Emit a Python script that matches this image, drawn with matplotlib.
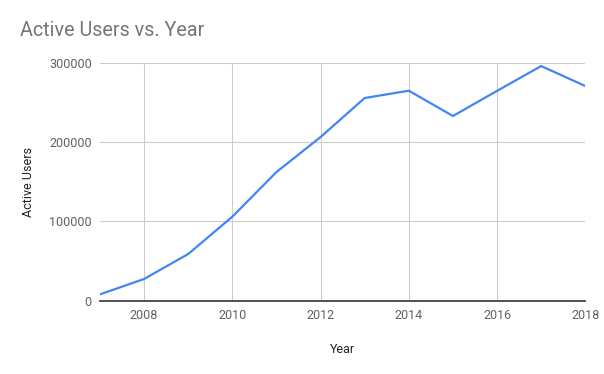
import numpy as np
from matplotlib import pyplot as plt

years = [2007, 2008, 2009, 2010, 2011, 2012, 2013, 2014, 2015, 2016, 2017, 2018]
active_users = [8000, 27400, 58900, 105900, 162200, 206300, 255500, 264700, 232800, 264500, 295800, 270600]
x_ticks = [2008, 2010, 2012, 2014, 2016, 2018]
y_ticks = [0, 100000, 200000, 300000]

plt.rcParams['font.family'] = ['Roboto', 'DejaVu Sans']

fig = plt.figure(figsize=(6.04, 3.74), dpi=100)
ax = fig.add_axes([100 / 604, 73.3 / 374, 485.3 / 604, 238 / 374])

ax.plot(years, active_users, color='#4285F4', linewidth=1.6, solid_joinstyle='round', zorder=3)

ax.set_xlim(2007, 2018)
ax.set_ylim(0, 300000)
ax.set_xticks(x_ticks)
ax.set_yticks(y_ticks)
ax.set_xticklabels([str(t) for t in x_ticks])
ax.set_yticklabels([str(t) for t in y_ticks])

ax.grid(True, color='#cccccc', linewidth=0.8)
ax.set_axisbelow(True)
for s in ['top', 'right', 'left']:
    ax.spines[s].set_visible(False)
ax.spines['bottom'].set_color('#333333')
ax.spines['bottom'].set_linewidth(1.2)
ax.tick_params(length=0, labelsize=9, labelcolor='#616161', pad=6)

ax.set_xlabel('Year', fontsize=9, color='#222222', labelpad=15)
ax.set_ylabel('Active Users', fontsize=9, color='#222222', labelpad=10)

fig.text(20 / 604, 1 - 31 / 374, 'Active Users vs. Year', fontsize=14.2, color='#757575', va='center', ha='left')

fig.savefig('out.png', dpi=100)
